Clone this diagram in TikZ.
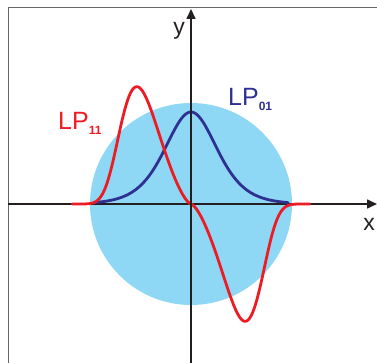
\documentclass[tikz,border=0pt]{standalone}
\usepackage{fontspec}
\setmainfont{Liberation Sans}
\usepackage{tikz}
\usetikzlibrary{arrows.meta, positioning, calc}

\definecolor{corecyan}{RGB}{142,216,245}
\definecolor{modeblue}{RGB}{46,49,146}
\definecolor{modered}{RGB}{237,28,36}
\definecolor{axisgray}{RGB}{35,31,32}

\newcommand{\lpsub}[1]{\raisebox{-5pt}{\fontsize{12}{12}\selectfont\bfseries #1}}

\begin{document}
\begin{tikzpicture}[x=1pt, y=-1pt,
    frameline/.style={draw=black!60, line width=0.9pt},
    axisline/.style={draw=axisgray, line width=1.6pt, -{Triangle[length=10pt, width=9pt]}},
    modecurve/.style={line width=2.8pt, line join=round, line cap=round},
    axislabel/.style={anchor=base, text=axisgray, font=\fontsize{23}{23}\selectfont},
    modelabel/.style={anchor=base west, inner sep=0pt, font=\fontsize{25}{25}\selectfont}]
\useasboundingbox (0,0) rectangle (377,363);

% Frame
\coordinate (ftl) at (8,7);
\coordinate (ftr) at (377,7);
\coordinate (fbl) at (8,363);
\draw[frameline] (ftr) -- (ftl) -- (fbl);

% Core
\coordinate (o) at (191,204);
\fill[corecyan] (o) circle[radius=101pt];

% x axis
\coordinate (xstart) at (8,204);
\coordinate (xend) at (377,204);
\draw[axisline] (xstart) -- (xend);

% LP01 mode
\draw[modecurve, modeblue] plot[domain=-97:97, samples=120]
  ({191+\x}, {204-92/(cosh(\x/35)*cosh(\x/35))});

% LP11 mode
\draw[modecurve, modered] plot[domain=-1.98:1.98, samples=160]
  ({191+60*\x}, {204+112*\x*sqrt(abs(\x))*exp(0.5*(1-\x*\x*\x*\x*abs(\x)))});

% y axis
\coordinate (ystart) at (191,363);
\coordinate (yend) at (191,9);
\draw[axisline] (ystart) -- (yend);

% Labels
\node[axislabel] (ylab) at (179,35) {y};
\node[axislabel] (xlab) at (369,230) {x};
\node[modelabel, text=modeblue] (lp01) at (228,106) {LP\lpsub{01}};
\node[modelabel, text=modered] (lp11) at (58,130) {LP\lpsub{11}};

\end{tikzpicture}
\end{document}
